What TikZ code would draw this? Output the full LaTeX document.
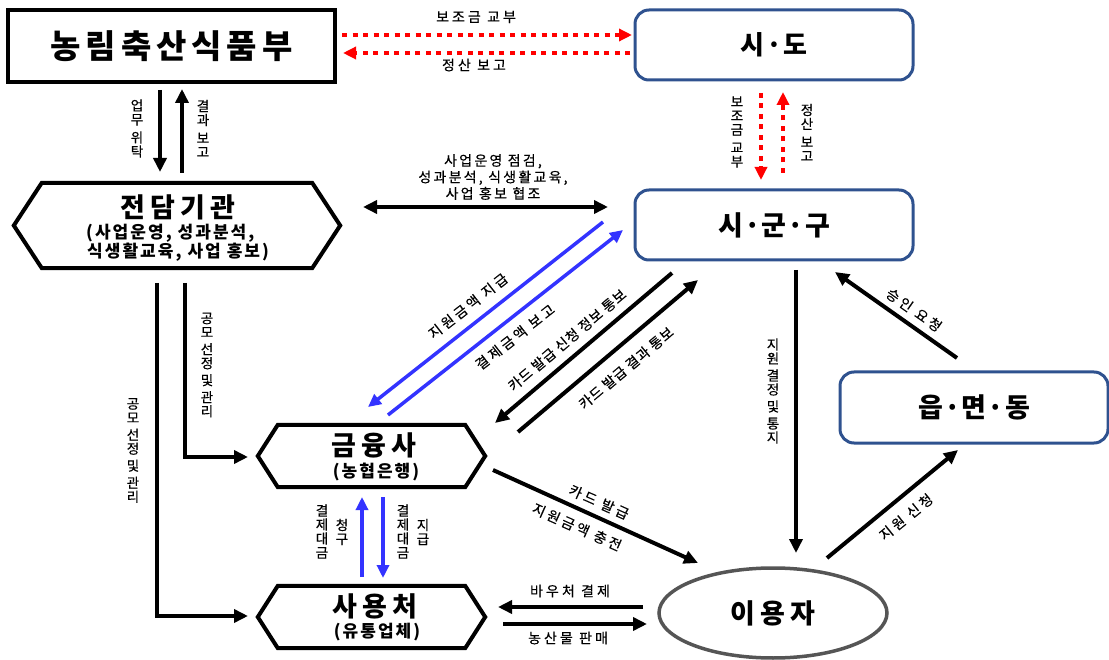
\documentclass[tikz,border=0pt]{standalone}
\usepackage{fontspec}
\setmainfont{Noto Sans CJK KR}
\usetikzlibrary{arrows.meta,shapes.geometric}
\definecolor{boxblue}{RGB}{47,82,143}
\definecolor{arrblue}{RGB}{51,51,255}
\definecolor{arrred}{RGB}{255,0,0}
\definecolor{ellgray}{RGB}{85,85,85}
\newcommand\hexpath[2]{%
  \draw[line width=4pt, line join=miter] (#1.west) -- ([xshift=#2]#1.north west) -- ([xshift=-#2]#1.north east)
    -- (#1.east) -- ([xshift=-#2]#1.south east) -- ([xshift=#2]#1.south west) -- cycle;}
\begin{document}
\begin{tikzpicture}[x=1pt,y=-1pt,
  lbl/.style={font=\fontsize{14}{15}\selectfont\addfontfeature{LetterSpace=22,FakeBold=0.4}, inner sep=0pt},
  lbltight/.style={font=\fontsize{14}{15}\selectfont\addfontfeature{LetterSpace=6,FakeBold=0.4}, inner sep=0pt},
  vlbl/.style={font=\fontsize{13.5}{14}\selectfont\addfontfeature{FakeBold=0.4}, align=center, inner sep=0pt},
  tbig/.style={font=\fontsize{33}{38}\selectfont\bfseries\addfontfeature{LetterSpace=15}},
  tsido/.style={font=\fontsize{26}{30}\selectfont\bfseries\addfontfeature{LetterSpace=5}},
  tmid/.style={font=\fontsize{27}{30}\selectfont\bfseries\addfontfeature{LetterSpace=4}},
  tuser/.style={font=\fontsize{27}{30}\selectfont\bfseries\addfontfeature{LetterSpace=20}},
  thex/.style={font=\fontsize{27}{30}\selectfont\bfseries\addfontfeature{LetterSpace=20}, inner sep=0pt},
  tsub/.style={font=\fontsize{17}{20}\selectfont\bfseries\addfontfeature{LetterSpace=12}, inner sep=0pt},
  sqbox/.style={draw, line width=4pt, inner sep=0pt},
  rbox/.style={draw=boxblue, line width=3pt, rounded corners=14pt, inner sep=0pt},
  hexbox/.style={inner sep=0pt},
  blk/.style={line width=4pt, -{Triangle[length=14pt,width=13pt]}},
  blk2/.style={line width=4pt, {Triangle[length=14pt,width=13pt]}-{Triangle[length=14pt,width=13pt]}},
  reddot/.style={draw=arrred, line width=4pt, dash pattern=on 5pt off 5.5pt, -{Triangle[length=13pt,width=12pt]}},
  blu/.style={draw=arrblue, line width=3.5pt, -{Triangle[length=13pt,width=12pt]}}
]
\useasboundingbox (0,0) rectangle (1109,660);

% ---------- main nodes ----------
\node[sqbox, minimum width=327pt, minimum height=72pt, tbig] (mafra) at (171.5,46) {농림축산식품부};
\node[rbox, minimum width=278pt, minimum height=70pt, tsido] (sido) at (774,45) {시·도};
\node[rbox, minimum width=278pt, minimum height=70pt, tmid] (sigungu) at (774,225) {시·군·구};
\node[rbox, minimum width=268pt, minimum height=71pt, tmid] (eup) at (974,407.5) {읍·면·동};
\node[draw=ellgray, line width=3.5pt, ellipse, minimum width=228pt, minimum height=90pt, inner sep=0pt, tuser] (user) at (773,613) {이용자};

\node[hexbox, minimum width=326pt, minimum height=85pt] (jd) at (177,225.5) {};
\hexpath{jd}{28pt}
\node[thex] (jdT) at (178,207.5) {전담기관};
\node[tsub, anchor=west] (jdS1) at (86,233.5) {(사업운영, 성과분석,};
\node[tsub, anchor=west] (jdS2) at (87,252) {식생활교육, 사업 홍보)};

\node[hexbox, minimum width=227pt, minimum height=62pt] (fin) at (371.5,456) {};
\hexpath{fin}{20pt}
\node[thex] (finT) at (374,445) {금융사};
\node[tsub] (finS) at (376,472) {(농협은행)};

\node[hexbox, minimum width=227pt, minimum height=62pt] (shop) at (371.5,617) {};
\hexpath{shop}{20pt}
\node[thex] (shopT) at (375,606.5) {사용처};
\node[tsub] (shopS) at (377,632) {(유통업체)};

% ---------- connector end points ----------
\coordinate (r1a) at (342,35);  \coordinate (r1b) at (632,35);
\coordinate (r2a) at (630,53);  \coordinate (r2b) at (343,53);
\coordinate (r3a) at (761,93);  \coordinate (r3b) at (761,180);
\coordinate (r4a) at (783,173); \coordinate (r4b) at (783,92);
\coordinate (k1a) at (160,90);  \coordinate (k1b) at (160,172);
\coordinate (k2a) at (182,173); \coordinate (k2b) at (182,89);
\coordinate (d1a) at (363,207); \coordinate (d1b) at (608,207);
\coordinate (b1a) at (603,222); \coordinate (b1b) at (368,407);
\coordinate (b2a) at (388,415); \coordinate (b2b) at (623,230);
\coordinate (c1a) at (672,273); \coordinate (c1b) at (495,423);
\coordinate (c2a) at (518,432); \coordinate (c2b) at (698,280);
\coordinate (g1a) at (185,283); \coordinate (g1b) at (248,457);
\coordinate (g2a) at (157,283); \coordinate (g2b) at (248,616);
\coordinate (v1a) at (362,577); \coordinate (v1b) at (362,497);
\coordinate (v2a) at (383,497); \coordinate (v2b) at (383,578);
\coordinate (f1a) at (493,470); \coordinate (f1b) at (698,563);
\coordinate (u1a) at (643,607); \coordinate (u1b) at (498,607);
\coordinate (u2a) at (503,624); \coordinate (u2b) at (647,624);
\coordinate (s1a) at (796,270); \coordinate (s1b) at (796,553);
\coordinate (e1a) at (957,358); \coordinate (e1b) at (835,272);
\coordinate (e2a) at (827,558); \coordinate (e2b) at (958,450);

% ---------- connectors ----------
\draw[reddot] (r1a) -- (r1b);
\draw[reddot] (r2a) -- (r2b);
\draw[reddot] (r3a) -- (r3b);
\draw[reddot] (r4a) -- (r4b);
\draw[blk] (k1a) -- (k1b);
\draw[blk] (k2a) -- (k2b);
\draw[blk2] (d1a) -- (d1b);
\draw[blu] (b1a) -- (b1b);
\draw[blu] (b2a) -- (b2b);
\draw[blk] (c1a) -- (c1b);
\draw[blk] (c2a) -- (c2b);
\draw[blk] (g1a) |- (g1b);
\draw[blk] (g2a) |- (g2b);
\draw[blu] (v1a) -- (v1b);
\draw[blu] (v2a) -- (v2b);
\draw[blk] (f1a) -- (f1b);
\draw[blk] (u1a) -- (u1b);
\draw[blk] (u2a) -- (u2b);
\draw[blk] (s1a) -- (s1b);
\draw[blk] (e1a) -- (e1b);
\draw[blk] (e2a) -- (e2b);

% ---------- labels ----------
\node[lbl] (l1) at (476,17) {보조금 교부};
\node[lbl] (l2) at (474,65) {정산 보고};
\node[vlbl] (l3) at (737,132) {보\\조\\금\\[4pt]교\\부};
\node[vlbl] (l4) at (807,132.5) {정\\산\\[4pt]보\\고};
\node[vlbl] (l5) at (137,128.5) {업\\무\\[4pt]위\\탁};
\node[vlbl] (l6) at (203,128.5) {결\\과\\[4pt]보\\고};
\node[lbl, align=center, font=\fontsize{14}{16.5}\selectfont\addfontfeature{LetterSpace=16,FakeBold=0.4}] (l7) at (493,177) {사업운영 점검,\\성과분석, 식생활교육,\\사업 홍보 협조};
\node[lbl, rotate=38] (l8) at (468,306) {지원금액 지급};
\node[lbl, rotate=38] (l9) at (515,337) {결제금액 보고};
\node[lbltight, rotate=40] (l10) at (567,340) {카드 발급 신청 정보 통보};
\node[lbltight, rotate=40] (l11) at (626,368) {카드 발급 결과 통보};
\node[vlbl] (l12) at (207,365) {공\\모\\[3pt]선\\정\\[3pt]및\\[3pt]관\\리};
\node[vlbl] (l13) at (133,450.5) {공\\모\\[3pt]선\\정\\[3pt]및\\[3pt]관\\리};
\node[vlbl] (l14) at (773,391) {지\\원\\[3pt]결\\정\\[3pt]및\\[3pt]통\\지};
\node[vlbl] (l15) at (322,531.5) {결\\제\\대\\금};
\node[vlbl] (l16) at (342,532) {청\\구};
\node[vlbl] (l17) at (403,531.5) {결\\제\\대\\금};
\node[vlbl] (l18) at (423,532) {지\\급};
\node[lbl, rotate=-24] (l19) at (599,502) {카드 발급};
\node[lbl, rotate=-24] (l20) at (577,527) {지원금액 충전};
\node[lbl] (l21) at (570,591) {바우처 결제};
\node[lbl] (l22) at (568,638) {농산물 판매};
\node[lbl, rotate=-35] (l23) at (914,310) {승인 요청};
\node[lbl, rotate=39] (l24) at (906,517) {지원 신청};
\end{tikzpicture}
\end{document}
